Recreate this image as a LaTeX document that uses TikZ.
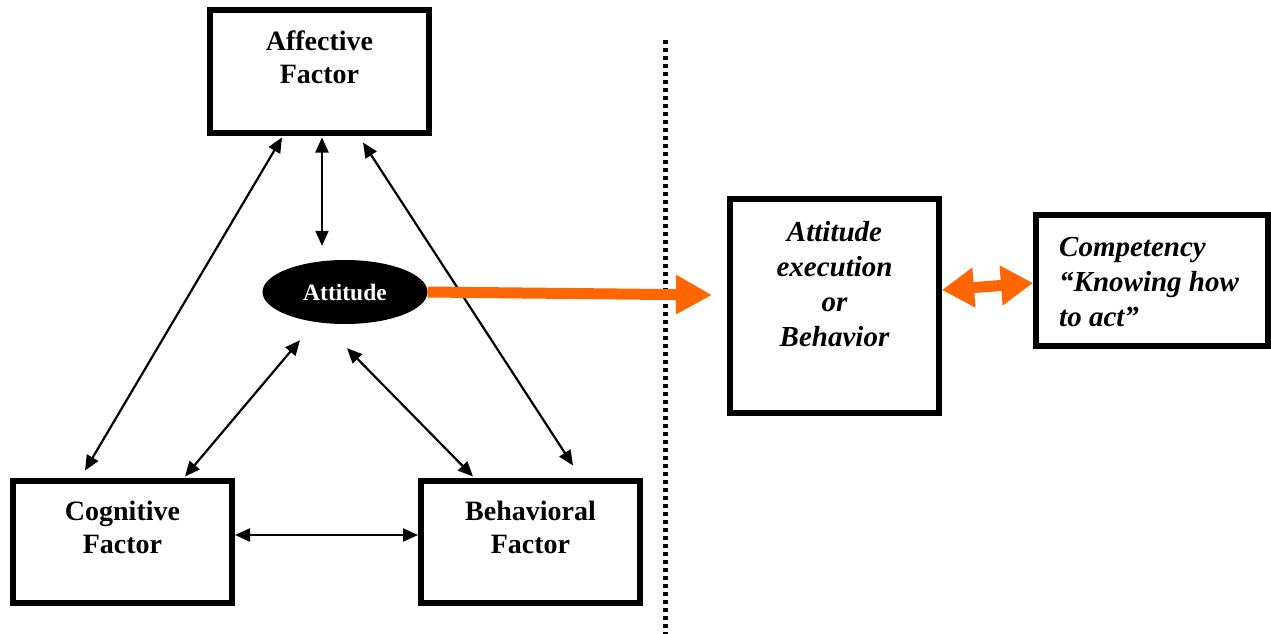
\documentclass[tikz,border=0pt]{standalone}
\usepackage{fontspec}
\setmainfont{Liberation Serif}
\usetikzlibrary{arrows.meta,shapes.geometric}
\definecolor{orng}{HTML}{FF6600}
\tikzset{
  factorbox/.style={draw=black,line width=6pt,minimum width=219pt,minimum height=122pt,inner sep=0pt},
  bigbox/.style={draw=black,line width=6pt,inner sep=0pt},
  boldtxt/.style={font=\fontsize{28}{33}\selectfont\bfseries,align=center,inner sep=0pt,anchor=north},
  itxt/.style={font=\fontsize{29}{35}\selectfont\bfseries\itshape,inner sep=0pt},
  dbl/.style={line width=2.2pt,{Triangle[length=15pt,width=13pt]}-{Triangle[length=15pt,width=13pt]}},
  orangearrow/.style={draw=orng,line width=11pt,-{Triangle[length=36pt,width=37pt]}},
  orangedbl/.style={draw=orng,line width=11pt,{Triangle[length=32pt,width=38pt]}-{Triangle[length=32pt,width=38pt]}},
  dotline/.style={line width=5pt,dash pattern=on 4pt off 4pt}
}
\begin{document}
\begin{tikzpicture}[x=1pt,y=-1pt]
\useasboundingbox (0,0) rectangle (1271,634);
% boxes
\node[factorbox] (aff) at (319.5,71.5) {};
\node[factorbox] (cog) at (122.5,541.5) {};
\node[factorbox] (beh) at (530.5,541.5) {};
\node[bigbox,minimum width=209pt,minimum height=214pt] (exe) at (834.5,306) {};
\node[bigbox,minimum width=232pt,minimum height=131pt] (comp) at (1152,280.5) {};
\node[ellipse,fill=black,minimum width=165pt,minimum height=64pt,inner sep=0pt] (att) at (345,292) {};
% texts
\node[boldtxt] (afft) at ([yshift=-23pt]aff.north) {Affective\\Factor};
\node[boldtxt] (cogt) at ([yshift=-23pt]cog.north) {Cognitive\\Factor};
\node[boldtxt] (beht) at ([yshift=-23pt]beh.north) {Behavioral\\Factor};
\node[font=\fontsize{23.5}{27}\selectfont\bfseries,text=white,inner sep=0pt] (attt) at (att.center) {Attitude};
\node[itxt,align=center,anchor=north] (exet) at ([yshift=-25pt]exe.north) {Attitude\\execution\\or\\Behavior};
\node[itxt,align=left,anchor=north west] (compt) at ([xshift=26pt,yshift=-25pt]comp.north west) {Competency\\“Knowing how\\to act”};
% black connectors
\draw[dbl] ([xshift=-37.5pt,yshift=-2pt]aff.south) -- ([xshift=-37.5pt,yshift=7pt]cog.north);
\draw[dbl] ([xshift=2.5pt,yshift=-2pt]aff.south) -- ([xshift=-23pt,yshift=14pt]att.north);
\draw[dbl] ([xshift=43.5pt,yshift=-7pt]aff.south) -- ([xshift=42.5pt,yshift=12pt]beh.north);
\draw[dbl] ([xshift=-45pt,yshift=-16pt]att.south) -- ([xshift=62.5pt,yshift=1pt]cog.north);
\draw[dbl] ([xshift=2pt,yshift=-24pt]att.south) -- ([xshift=-57.5pt,yshift=1pt]beh.north);
\draw[dbl] ([yshift=6.5pt]cog.east) -- ([yshift=6.5pt]beh.west);
% dotted separator
\coordinate (dtop) at (665,40);
\coordinate (dbot) at (665,634);
\draw[dotline] (dtop) -- (dbot);
% orange connectors
\draw[orangearrow] (att.east) -- ([xshift=-15pt,yshift=11pt]exe.west);
\draw[orangedbl] ([yshift=16pt]exe.east) -- ([yshift=-2.5pt]comp.west);
\end{tikzpicture}
\end{document}
